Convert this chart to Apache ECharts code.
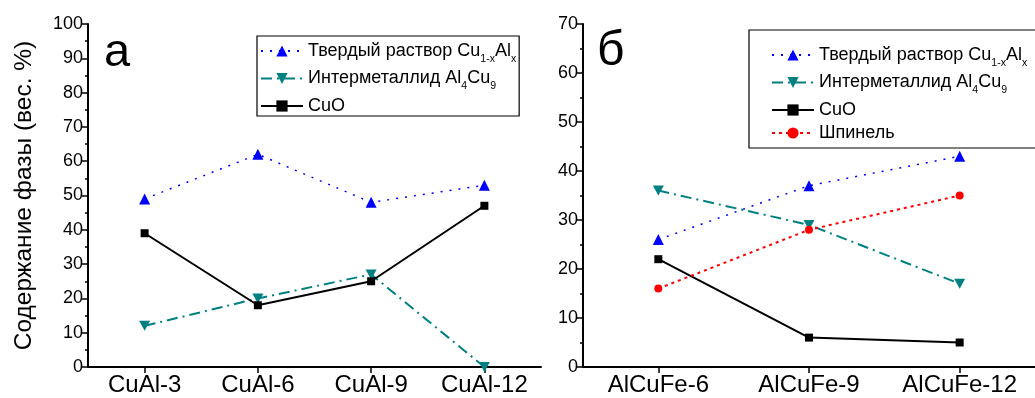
<!DOCTYPE html>
<html><head><meta charset="utf-8">
<script src="https://cdn.jsdelivr.net/npm/echarts@6/dist/echarts.min.js"></script>
<style>html,body{margin:0;padding:0;background:#fff}#c{width:1035px;height:398px}</style>
</head><body><div id="c"></div>
<script>
// ---- data ----
const catsA = ['CuAl-3', 'CuAl-6', 'CuAl-9', 'CuAl-12'];
const catsB = ['AlCuFe-6', 'AlCuFe-9', 'AlCuFe-12'];
const solidA = [49, 62, 48, 53];
const interA = [12, 20, 27, 0];
const cuoA = [39, 18, 25, 47];
const solidB = [26, 37, 43];
const interB = [36, 29, 17];
const cuoB = [22, 6, 5];
const spinelB = [16, 28, 35];
const yTitle = 'Содержание фазы (вес. %)';
const N_SOLID = 'Твердый раствор Cu1-xAlx';
const N_INTER = 'Интерметаллид Al4Cu9';
const N_CUO = 'CuO';
const N_SPIN = 'Шпинель';

const FONT = 'Liberation Sans, Arial, sans-serif';
const labelMap = {};
labelMap[N_SOLID] = '{t|Твердый раствор Cu}{s|1-x}{t|Al}{s|x}';
labelMap[N_INTER] = '{t|Интерметаллид Al}{s|4}{t|Cu}{s|9}';
labelMap[N_CUO] = '{t|CuO}';
labelMap[N_SPIN] = '{t|Шпинель}';
const rich = {
  t: {fontSize: 18, fontFamily: FONT, color: '#000'},
  s: {fontSize: 10.5, fontFamily: FONT, color: '#000', verticalAlign: 'bottom', lineHeight: 27}
};

const styles = {};
styles[N_SOLID] = {color: '#0000ff', line: {width: 1.5, type: [2, 7]}, symbol: 'triangle', size: 11};
styles[N_INTER] = {color: '#008080', line: {width: 2, type: [11, 5, 2, 5]}, symbol: 'path://M0,0 L10,0 L5,9 Z', size: [11, 10]};
styles[N_CUO] = {color: '#000000', line: {width: 2, type: 'solid'}, symbol: 'rect', size: 8};
styles[N_SPIN] = {color: '#ff0000', line: {width: 2, type: [3, 4]}, symbol: 'circle', size: 8};

function mk(name, data, idx) {
  const s = styles[name];
  return {
    name: name, type: 'line', data: data, xAxisIndex: idx, yAxisIndex: idx,
    symbol: s.symbol, symbolSize: s.size, showAllSymbol: true,
    itemStyle: {color: s.color},
    lineStyle: {color: s.color, width: s.line.width, type: s.line.type},
    emphasis: {disabled: true}, z: 3, clip: false
  };
}

function yAxis(idx, max, interval) {
  return {
    type: 'value', gridIndex: idx, min: 0, max: max, interval: interval,
    splitLine: {show: false},
    axisLine: {show: true, lineStyle: {color: '#000', width: 2}},
    axisTick: {show: true, inside: false, length: 6, lineStyle: {color: '#000', width: 1.5}},
    minorTick: {show: true, splitNumber: 2, length: 3, lineStyle: {color: '#000', width: 1.5}},
    axisLabel: {fontSize: 18, fontFamily: FONT, color: '#000', margin: 5},
    name: idx === 0 ? yTitle : '', nameLocation: 'middle', nameGap: 51,
    nameTextStyle: {fontSize: 24.5, fontFamily: FONT, color: '#000'}
  };
}
function xAxis(idx, cats) {
  return {
    type: 'category', gridIndex: idx, data: cats, boundaryGap: true,
    axisLine: {show: true, lineStyle: {color: '#000', width: 2}},
    axisTick: {show: true, alignWithLabel: true, length: 6, lineStyle: {color: '#000', width: 1.5}},
    axisLabel: {fontSize: 24, fontFamily: FONT, color: '#000', margin: 6, interval: 0},
    splitLine: {show: false}
  };
}

const legendCommon = {
  orient: 'vertical', itemWidth: 42, itemHeight: 14, itemGap: 5,
  borderColor: '#000', borderWidth: 1.2, backgroundColor: '#fff',
  selectedMode: false,
  formatter: function (n) { return labelMap[n]; },
  textStyle: {rich: rich, fontFamily: FONT, fontSize: 18, color: '#000'}
};

const chart = echarts.init(document.getElementById('c'), null, {renderer: 'canvas'});
chart.setOption({
  animation: false,
  backgroundColor: '#fff',
  grid: [
    {left: 88, right: 494, top: 24, bottom: 31},
    {left: 583, right: 0, top: 24, bottom: 31}
  ],
  xAxis: [xAxis(0, catsA), xAxis(1, catsB)],
  yAxis: [yAxis(0, 100, 10), yAxis(1, 70, 10)],
  legend: [
    Object.assign({}, legendCommon, {left: 257, top: 36, padding: [6, 3, 1, 3], data: [N_SOLID, N_INTER, N_CUO]}),
    Object.assign({}, legendCommon, {left: 749, top: 30, padding: [16, 14, 6, 22], data: [N_SOLID, N_INTER, N_CUO, N_SPIN]})
  ],
  graphic: [
    {type: 'text', left: 104, top: 30, style: {text: 'а', fontSize: 47, fontFamily: FONT, fill: '#000'}},
    {type: 'text', left: 597, top: 28, style: {text: 'б', fontSize: 48, fontFamily: FONT, fill: '#000'}}
  ],
  series: [
    mk(N_SOLID, solidA, 0), mk(N_INTER, interA, 0), mk(N_CUO, cuoA, 0),
    mk(N_SOLID, solidB, 1), mk(N_INTER, interB, 1), mk(N_CUO, cuoB, 1), mk(N_SPIN, spinelB, 1)
  ]
});
</script></body></html>
